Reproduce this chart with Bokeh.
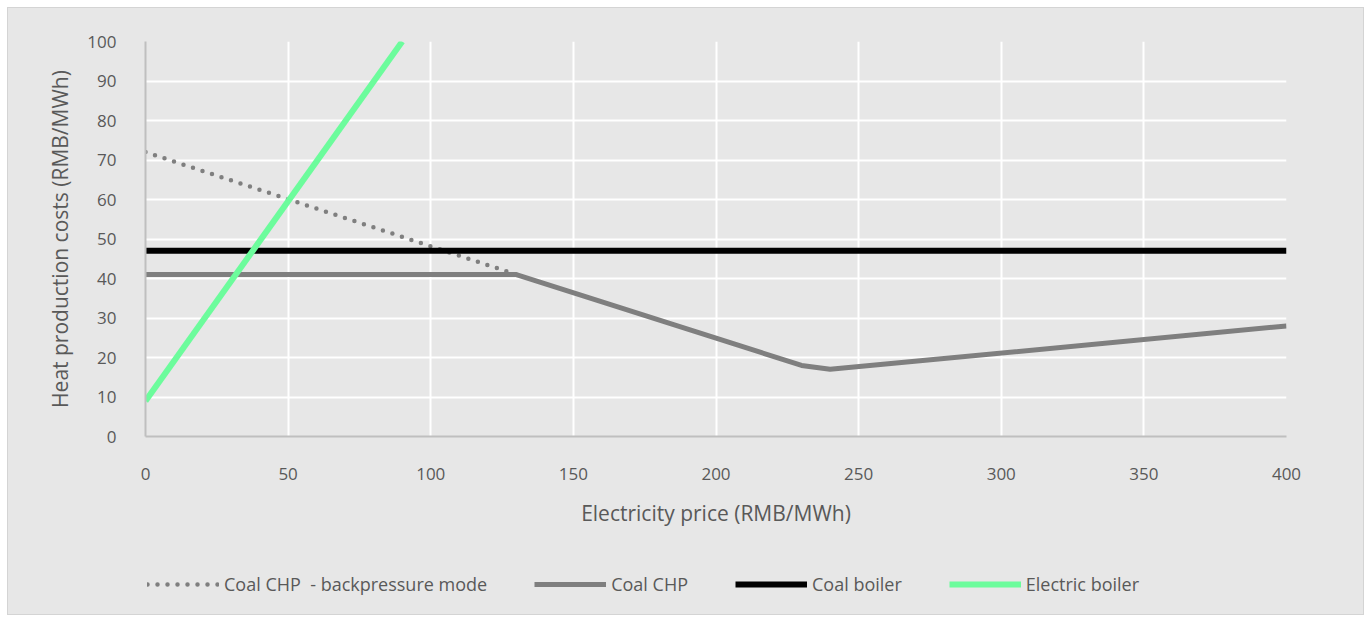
from bokeh.plotting import figure
from bokeh.models import Legend, LegendItem, Range1d, FixedTicker
from bokeh.layouts import column
from bokeh.embed import file_html
from bokeh.resources import INLINE

# Data
backpressure_x = [0, 130]
backpressure_y = [72, 41]
chp_x = [0, 130, 230, 240, 400]
chp_y = [41, 41, 18, 17, 28]
coal_boiler_x = [0, 400]
coal_boiler_y = [47, 47]
electric_x = [0, 90]
electric_y = [9, 100]
x_ticks = [0, 50, 100, 150, 200, 250, 300, 350, 400]
y_ticks = [0, 10, 20, 30, 40, 50, 60, 70, 80, 90, 100]
series_labels = ["Coal CHP  - backpressure mode", "Coal CHP", "Coal boiler", "Electric boiler"]

BG = "#e7e7e7"
TXT = "#595959"
FONT = "Open Sans"

styles_list = [
    dict(line_color="#7f7f7f", line_width=4.5, line_dash="0 10", line_cap="round"),
    dict(line_color="#7f7f7f", line_width=5, line_join="round"),
    dict(line_color="black", line_width=6),
    dict(line_color="#6cfc9c", line_width=6),
]

p = figure(width=1355, height=527, output_backend="svg", toolbar_location=None,
           x_range=Range1d(0, 400), y_range=Range1d(0, 100),
           min_border_left=137, min_border_right=77, min_border_top=33, min_border_bottom=99)
p.background_fill_color = BG
p.border_fill_color = BG
p.outline_line_color = None

for ax in (p.xaxis[0], p.yaxis[0]):
    ax.axis_line_color = "#bfbfbf"
    ax.axis_line_width = 2
    ax.major_tick_line_color = None
    ax.minor_tick_line_color = None
    ax.major_label_text_color = TXT
    ax.major_label_text_font = FONT
    ax.major_label_text_font_size = "17px"
    ax.axis_label_text_color = TXT
    ax.axis_label_text_font = FONT
    ax.axis_label_text_font_size = "21px"
    ax.axis_label_text_font_style = "normal"

p.xaxis.ticker = FixedTicker(ticks=x_ticks)
p.yaxis.ticker = FixedTicker(ticks=y_ticks)
p.xaxis.axis_label = "Electricity price (RMB/MWh)"
p.yaxis.axis_label = "Heat production costs (RMB/MWh)"
p.xaxis.major_label_standoff = 25
p.yaxis.major_label_standoff = 23
p.xaxis.axis_label_standoff = 16
p.yaxis.axis_label_standoff = 10

p.xgrid.ticker = FixedTicker(ticks=x_ticks)
p.ygrid.ticker = FixedTicker(ticks=y_ticks)
for g in (p.xgrid[0], p.ygrid[0]):
    g.grid_line_color = "white"
    g.grid_line_width = 2

p.line(backpressure_x, backpressure_y, **styles_list[0])
p.line(chp_x, chp_y, **styles_list[1])
p.line(coal_boiler_x, coal_boiler_y, **styles_list[2])
p.line(electric_x, electric_y, **styles_list[3])

# Legend strip (second figure sharing the same background)
p2 = figure(width=1355, height=79, output_backend="svg", toolbar_location=None,
            x_range=Range1d(0, 1), y_range=Range1d(0, 1),
            min_border_left=0, min_border_right=0, min_border_top=0, min_border_bottom=0)
p2.background_fill_color = BG
p2.border_fill_color = BG
p2.outline_line_color = None
p2.axis.visible = False
p2.grid.visible = False

legend_items = []
for lab, st in zip(series_labels, styles_list):
    # legend sample renderers, kept outside the visible range of the strip
    r = p2.line([-10, -9], [-10, -10], **st)
    legend_items.append(LegendItem(label=lab, renderers=[r]))

legend = Legend(items=legend_items, location=(2, 18), orientation="horizontal",
                padding=0, margin=0, spacing=47, border_line_color=None,
                background_fill_alpha=0, glyph_width=72, glyph_height=20,
                label_standoff=5, label_text_font=FONT, label_text_font_size="18px",
                label_text_color=TXT)
p2.add_layout(legend, "center")

lay = column(p, p2, spacing=0)
lay.margin = (7, 0, 0, 7)
lay.styles = {"border": "1px solid #d4d4d4", "background-color": BG}

open("out.html", "w").write(file_html(lay, INLINE))
